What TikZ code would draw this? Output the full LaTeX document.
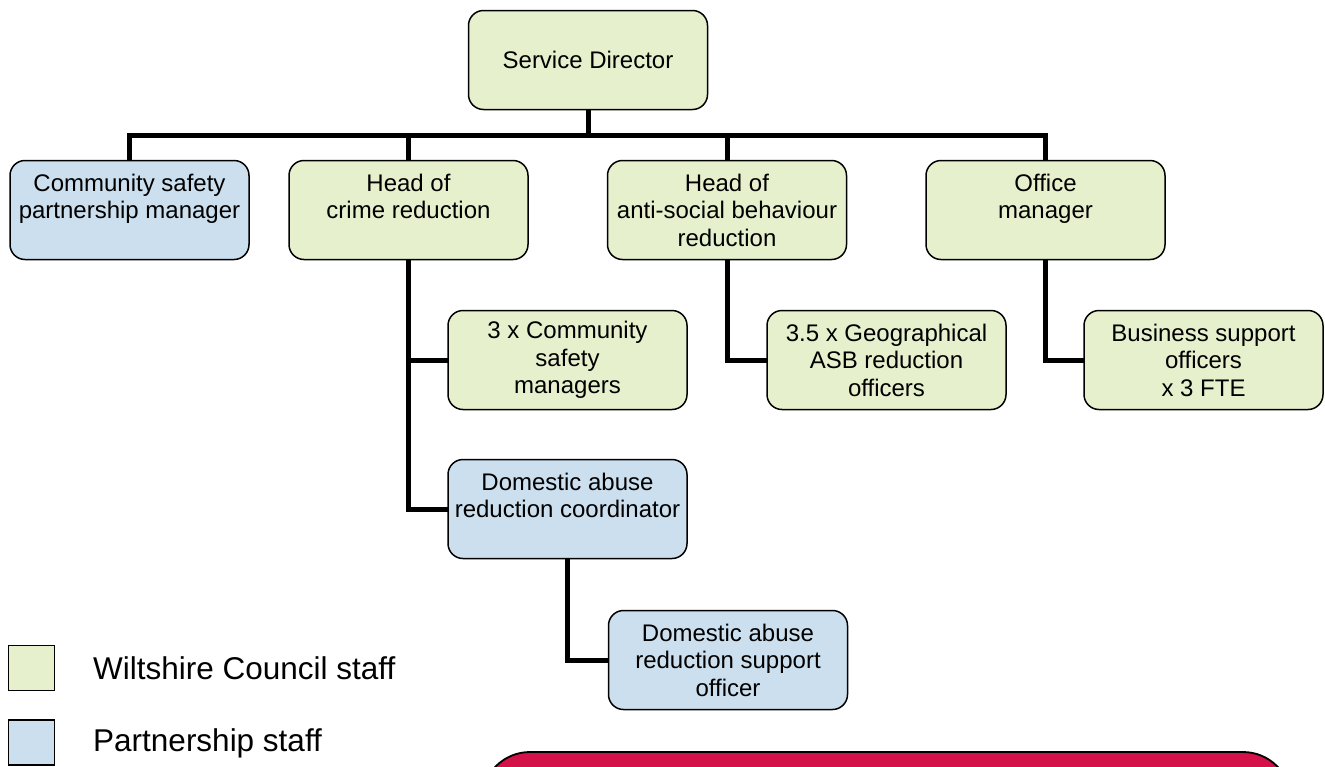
\documentclass[tikz,border=0pt]{standalone}
\usepackage{fontspec}
\setmainfont{Liberation Sans}
\usetikzlibrary{backgrounds}
\definecolor{wcgreen}{RGB}{230,240,205}
\definecolor{psblue}{RGB}{204,223,238}
\definecolor{redbox}{RGB}{211,18,73}
\tikzset{
  orgbox/.style={draw=black, line width=1.5pt, rounded corners=15pt,
    minimum width=239pt, minimum height=99pt, inner sep=2pt, align=center,
    font=\fontsize{24}{27.5}\selectfont},
  green/.style={orgbox, fill=wcgreen},
  blue/.style={orgbox, fill=psblue},
  conn/.style={line width=5pt, line join=miter, line cap=rect},
  legsq/.style={draw=black, line width=1.8pt, minimum width=46pt, minimum height=45pt, inner sep=0pt},
  legtxt/.style={anchor=west, inner sep=0pt, font=\fontsize{31.5}{35}\selectfont}
}
\begin{document}
\begin{tikzpicture}[x=1pt, y=-1pt]
\useasboundingbox (0,0) rectangle (1325,766);
\clip (0,0) rectangle (1325,766);

% boxes
\node[green] (sd)   at (588,60)     {Service Director};
\node[blue]  (csp)  at (129.5,210)  {Community safety\\partnership manager\\~};
\node[green] (hcr)  at (408.5,210)  {Head of\\crime reduction\\~};
\node[green] (hasb) at (727,210)    {Head of\\anti-social behaviour\\reduction};
\node[green] (ofm)  at (1045.5,210) {Office\\manager\\~};
\node[green] (csm)  at (567.5,360)  {3 x Community\\safety\\managers};
\node[green] (geo)  at (886.5,360)  {3.5 x Geographical\\ASB reduction\\officers};
\node[green] (bss)  at (1203.5,360) {Business support\\officers\\x 3 FTE};
\node[blue]  (dac)  at (567.5,509)  {Domestic abuse\\reduction coordinator\\~};
\node[blue]  (das)  at (728,660)    {Domestic abuse\\reduction support\\officer};

% connectors (behind the boxes)
\begin{scope}[on background layer]
\coordinate (bar) at (588,135);
\draw[conn] (sd.south) -- (bar);
\draw[conn] (csp.north) |- (bar) -| (ofm.north);
\draw[conn] (hcr.north) -- (hcr.north |- bar);
\draw[conn] (hasb.north) -- (hasb.north |- bar);
\draw[conn] (hcr.south) |- (dac.west);
\draw[conn] (hcr.south |- csm.west) -- (csm.west);
\draw[conn] (hasb.south) |- (geo.west);
\draw[conn] (ofm.south) |- (bss.west);
\draw[conn] (dac.south) |- (das.west);
\end{scope}

% legend
\node[legsq, fill=wcgreen] (lg1) at (31.5,668) {};
\node[legsq, fill=psblue]  (lg2) at (31.5,742.5) {};
\node[legtxt] (lt1) at (93,668) {Wiltshire Council staff};
\node[legtxt] (lt2) at (93,743) {Partnership staff};

% red box (partly cut off by the page)
\draw[fill=redbox, draw=black, line width=1.8pt, rounded corners=48pt]
  (482,840) rectangle (1291,752);
\end{tikzpicture}
\end{document}
